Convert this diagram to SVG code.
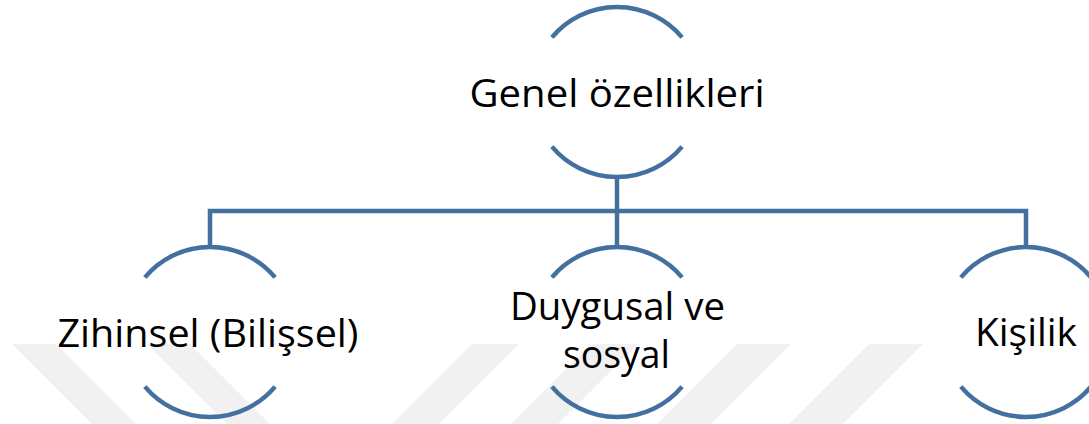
<svg xmlns="http://www.w3.org/2000/svg" width="1089" height="424" viewBox="0 0 1089 424">
  <style>
    .wm { fill: #f1f1f1; stroke: none; }
    .arc { fill: none; stroke: #44709f; stroke-width: 4.5; }
    .conn { fill: none; stroke: #44709f; stroke-width: 4.5; stroke-linejoin: miter; }
    .lbl { font-family: "Open Sans", "Noto Sans", "DejaVu Sans", sans-serif; font-size: 39px; fill: #000; text-anchor: middle; }
  </style>
  <rect x="0" y="0" width="1089" height="424" fill="#ffffff"/>
  <g id="watermark">
    <polygon class="wm" points="12,344 56,344 136,424 92,424"/>
    <polygon class="wm" points="147,344 190,344 270,424 227,424"/>
    <polygon class="wm" points="472,344 519,344 439,424 392,424"/>
    <polygon class="wm" points="591,344 638,344 558,424 511,424"/>
    <polygon class="wm" points="737,344 791,344 711,424 657,424"/>
    <polygon class="wm" points="869,344 923,344 843,424 789,424"/>
  </g>
  <g id="connectors">
    <path class="conn" d="M617,177 V213"/>
    <path class="conn" d="M210,247 V211 H1026 V247"/>
    <path class="conn" d="M617,211 V247"/>
  </g>
  <g id="node-genel">
    <path class="arc" d="M551.9,37.4 A85,85 0 0 1 682.1,37.4"/>
    <path class="arc" d="M551.9,146.6 A85,85 0 0 0 682.1,146.6"/>
    <text class="lbl" x="617" y="107" textLength="295" lengthAdjust="spacingAndGlyphs">Genel özellikleri</text>
  </g>
  <g id="node-zihinsel">
    <path class="arc" d="M144.9,277.4 A85,85 0 0 1 275.1,277.4"/>
    <path class="arc" d="M144.9,386.6 A85,85 0 0 0 275.1,386.6"/>
    <text class="lbl" x="208" y="347" textLength="301" lengthAdjust="spacingAndGlyphs">Zihinsel (Bilişsel)</text>
  </g>
  <g id="node-duygusal">
    <path class="arc" d="M551.9,277.4 A85,85 0 0 1 682.1,277.4"/>
    <path class="arc" d="M551.9,386.6 A85,85 0 0 0 682.1,386.6"/>
    <text class="lbl" x="617.5" y="320" textLength="215" lengthAdjust="spacingAndGlyphs">Duygusal ve</text>
    <text class="lbl" x="616.5" y="368" textLength="107" lengthAdjust="spacingAndGlyphs">sosyal</text>
  </g>
  <g id="node-kisilik">
    <path class="arc" d="M960.9,277.4 A85,85 0 0 1 1091.1,277.4"/>
    <path class="arc" d="M960.9,386.6 A85,85 0 0 0 1091.1,386.6"/>
    <text class="lbl" x="1026" y="346" textLength="102" lengthAdjust="spacingAndGlyphs">Kişilik</text>
  </g>
</svg>
